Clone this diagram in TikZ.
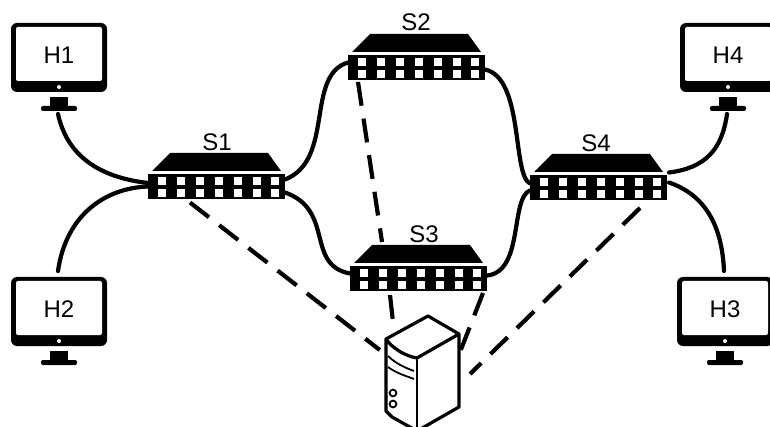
\documentclass[tikz,border=0pt]{standalone}
\usepackage{fontspec}
\setmainfont{Liberation Sans}
\tikzset{
  swbody/.style={draw=none,fill=black,minimum width=137pt,minimum height=25pt,inner sep=0pt,outer sep=0pt},
  hostbox/.style={draw=none,fill=none,minimum width=96pt,minimum height=69pt,inner sep=0pt,outer sep=0pt},
  lab/.style={font=\fontsize{24}{24}\selectfont,inner sep=0pt},
  link/.style={line width=4.2pt,line cap=round},
  ctrl/.style={line width=4.2pt,dash pattern=on 24pt off 13pt},
  srv/.style={line width=3.2pt,line join=round}
}
\newcommand{\myswitch}[3]{% name, left, top of trapezoid
  \fill[black] (#2+22,#3) -- (#2+120,#3) -- (#2+133,#3+18) -- (#2+4,#3+18) -- cycle;
  \node[swbody] (#1) at (#2+68.5,#3+33.5) {};
  \foreach \i in {0,...,6}{
    \fill[white] (#2+14+\i*18.9-4,#3+24.5) rectangle ++(8,7.5);
    \fill[white] (#2+14+\i*18.9-4,#3+36.5) rectangle ++(8,7.5);
  }
}
\newcommand{\myhost}[4]{% name, left, top, label
  \fill[black,rounded corners=6pt] (#2,#3) rectangle (#2+96,#3+69);
  \fill[white,rounded corners=2pt] (#2+5,#3+4) rectangle (#2+91,#3+58);
  \fill[white] (#2+48,#3+64) circle (2pt);
  \fill[black] (#2+39,#3+74) rectangle (#2+57,#3+84);
  \fill[black,rounded corners=2pt] (#2+30,#3+83) rectangle (#2+66,#3+88);
  \node[hostbox] (#1) at (#2+48,#3+34.5) {};
  \coordinate (#1b) at (#2+47,#3+91);
  \coordinate (#1t) at (#2+47,#3-6);
  \node[lab] (#1l) at (#2+48,#3+32) {#4};
}
\begin{document}
\begin{tikzpicture}[x=1pt,y=-1pt]
\useasboundingbox (0,0) rectangle (770,427);
\fill[white] (0,0) rectangle (770,427);
\begin{scope}
\clip (0,0) rectangle (770,427);
\myhost{h1}{11}{23}{H1}
\myhost{h2}{11}{277}{H2}
\myhost{h3}{677}{277}{H3}
\myhost{h4}{680}{23}{H4}
\end{scope}
\node[inner sep=0pt,minimum width=73pt,minimum height=100pt] (srv) at (422.5,368) {};
\coordinate (s2s3end) at (382,242);
% dashed link that runs behind S3
\myswitch{s2}{348}{34}
\draw[ctrl] ([xshift=10pt,yshift=-2pt]s2.south west) -- (s2s3end);
\myswitch{s1}{148}{153}
\myswitch{s3}{350}{245}
\myswitch{s4}{530}{154}
\node[lab] at (217,142) {S1};
\node[lab] at (416,22) {S2};
\node[lab] at (424,234) {S3};
\node[lab] at (596,143) {S4};
% solid links
\draw[link] (h1b) .. controls (68,160) and (105,178) .. ([yshift=3.5pt]s1.west);
\draw[link] (h2t) .. controls (66,215) and (105,188) .. (s1.west);
\draw[link] ([yshift=7pt]s1.east) .. controls (335,160) and (305,75) .. ([yshift=5pt]s2.west);
\draw[link] ([yshift=-6pt]s1.east) .. controls (335,210) and (305,265) .. ([yshift=5pt]s3.west);
\draw[link] ([yshift=-2pt]s2.east) .. controls (524,78) and (512,175) .. ([yshift=4pt]s4.west);
\draw[link] ([yshift=3pt]s3.east) .. controls (524,272) and (510,198) .. ([yshift=-3pt]s4.west);
\draw[link] ([yshift=15pt,xshift=2pt]s4.east) .. controls (705,168) and (722,150) .. (h4b);
\draw[link] ([yshift=5pt,xshift=2pt]s4.east) .. controls (705,195) and (722,225) .. (h3t);
% dashed links
\draw[ctrl] ([xshift=42pt,yshift=-3.5pt]s1.south west) -- ([xshift=-6pt,yshift=18pt]srv.west);
\draw[ctrl] ([xshift=40pt,yshift=-4pt]s3.south west) -- ([xshift=-29.5pt,yshift=46pt]srv.center);
\draw[ctrl] ([xshift=-4pt,yshift=-2pt]s3.south east) -- ([xshift=37.5pt,yshift=16pt]srv.center);
\draw[ctrl] ([xshift=-27pt,yshift=-8pt]s4.south east) -- ([xshift=47.5pt,yshift=-6pt]srv.center);
% server
\coordinate (srvA) at (386,339);
\coordinate (srvB) at (428,316);
\coordinate (srvC) at (459,334);
\coordinate (srvD) at (417,358);
\begin{scope}
\clip (0,0) rectangle (770,427);
\draw[srv] (srvA) -- (srvB) -- (srvC) -- (459,407) -- (417,431) -- (392,417) -- (386,411) -- cycle;
\draw[srv] (srvC) -- (srvD);
\draw[srv] (srvA) .. controls (392,348) and (405,356) .. (srvD);
\draw[line width=1.5pt] (srvD) -- (417,431);
\draw[line width=1.8pt] (388,356) .. controls (396,364) and (406,368) .. (414,371);
\draw[line width=1.8pt] (388,367) .. controls (396,373) and (406,376) .. (414,379);
\draw[line width=1.8pt] (393,393) circle (3.4pt);
\draw[line width=1.8pt] (393,404) circle (3.4pt);
\end{scope}
\end{tikzpicture}
\end{document}
